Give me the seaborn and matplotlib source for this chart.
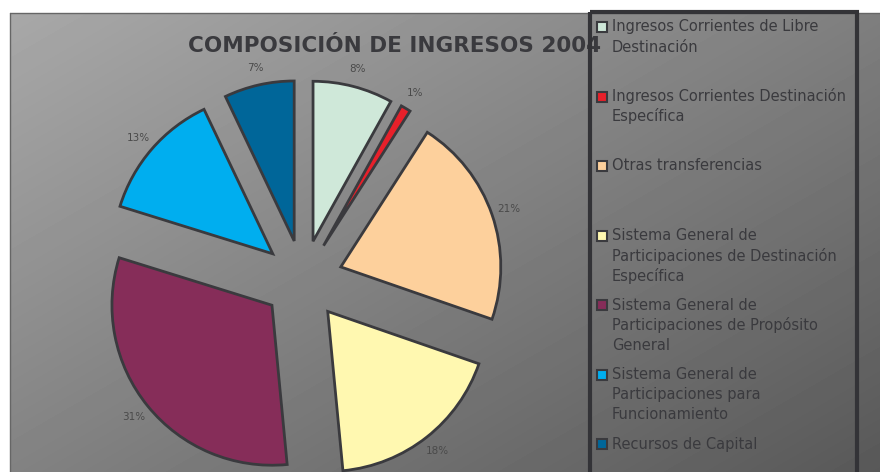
import textwrap

import matplotlib.pyplot as plt
import numpy as np
import seaborn as sns
from matplotlib.patches import Rectangle

# data
categories = [
    "Ingresos Corrientes de Libre Destinación",
    "Ingresos Corrientes Destinación Específica",
    "Otras transferencias",
    "Sistema General de Participaciones de Destinación Específica",
    "Sistema General de Participaciones de Propósito General",
    "Sistema General de Participaciones para Funcionamiento",
    "Recursos de Capital",
]
shares = [8, 1, 21, 18, 31, 13, 7]
colors = ["#cfe8d9", "#e8202a", "#fdd09c", "#fff8b0", "#862d59", "#00aeef", "#006699"]
title = "COMPOSICIÓN DE INGRESOS 2004"

sns.set_theme(style="white")
plt.rcParams["font.family"] = ["DejaVu Sans"]

ink = "#3a3a3e"
W, H = 880, 472
fig = plt.figure(figsize=(W / 100, H / 100), dpi=100)

# background in pixel coordinates
bg = fig.add_axes([0, 0, 1, 1])
bg.set_xlim(0, W)
bg.set_ylim(H, 0)
bg.axis("off")
xx, yy = np.meshgrid(np.arange(10, W), np.arange(13, H))
grad = (168 - 0.048 * (xx - 10) - 0.083 * (yy - 13)) / 255
bg.imshow(grad, cmap="gray", vmin=0, vmax=1, extent=(10, W, H, 13),
          aspect="auto", interpolation="bilinear")
bg.plot([10, W], [13, 13], color="#666666", lw=1)
bg.plot([10, 10], [13, H], color="#666666", lw=1)

bg.text(395, 46, title, ha="center", va="center", fontsize=15.5,
        fontweight="bold", color=ink, zorder=2)

# legend drawn by hand to keep the uneven wrapping of the original
bg.add_patch(Rectangle((590, 12), 267, 480, fill=False, ec="#333337",
                       lw=3, zorder=5))
for i, (name, col) in enumerate(zip(categories, colors)):
    y0 = 27 + 69.5 * i
    bg.add_patch(Rectangle((597, y0 - 5), 10, 10, fc=col, ec=ink, lw=1.5, zorder=6))
    for j, line in enumerate(textwrap.wrap(name, 31)):
        bg.text(612, y0 + 20 * j, line, ha="left", va="center",
                fontsize=10.5, color=ink, zorder=6)

# pie
R = 160
ax = fig.add_axes([(303 - 200) / W, (H - 280 - 200) / H, 400 / W, 400 / H])
ax.set_facecolor("none")
wedges, texts, autotexts = ax.pie(
    shares,
    colors=colors,
    startangle=90,
    counterclock=False,
    explode=[0.25] * len(shares),
    autopct="%1.0f%%",
    pctdistance=1.11,
    wedgeprops=dict(edgecolor=ink, linewidth=2),
    textprops=dict(fontsize=7.5, color="#4a4a4a"),
)
for w in wedges:
    w.set_clip_on(False)
ax.set_xlim(-1.25, 1.25)
ax.set_ylim(-1.25, 1.25)
ax.set_aspect("equal")
ax.axis("off")

fig.savefig("out.png", dpi=100)
